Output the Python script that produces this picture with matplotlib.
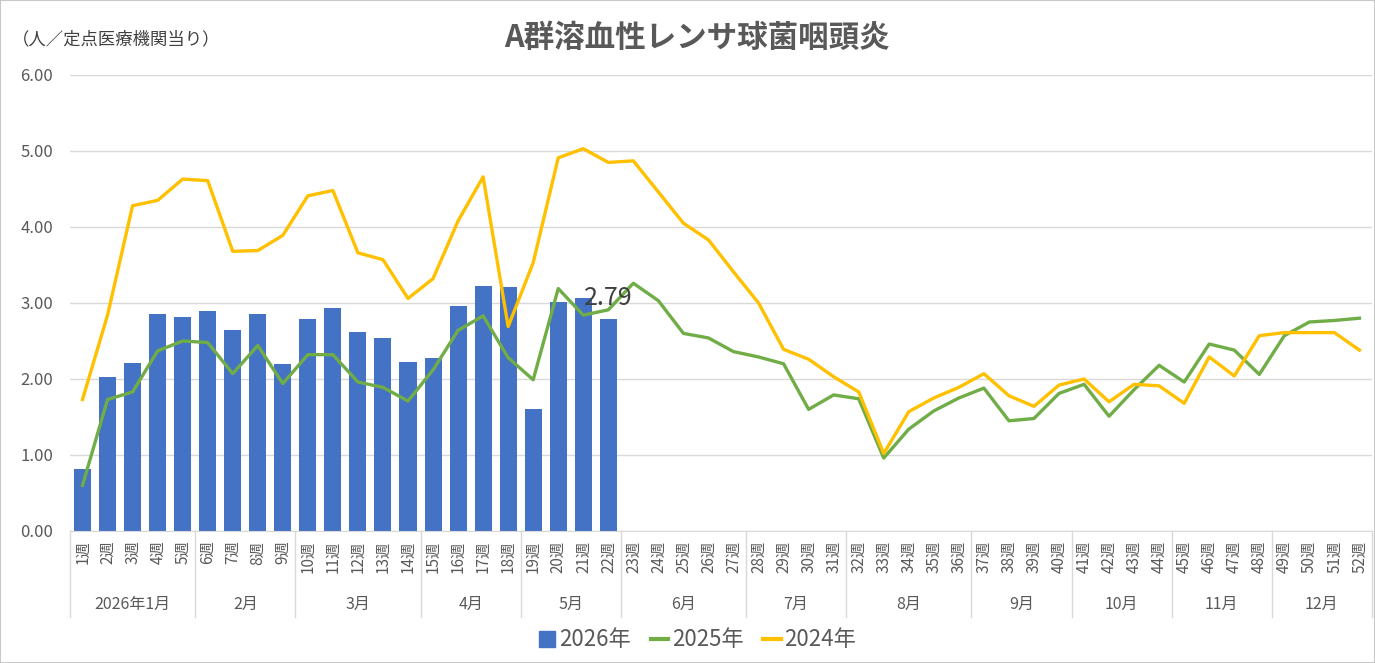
import matplotlib
matplotlib.use("Agg")
import matplotlib.pyplot as plt
import matplotlib.transforms as mtransforms
from matplotlib.lines import Line2D
from matplotlib.patches import Rectangle
import numpy as np

plt.rcParams['font.family'] = ['Noto Sans CJK JP', 'DejaVu Sans']

## data (per sentinel site)
weeks = [f"{i}週" for i in range(1, 53)]
months = ["2026年1月", "2月", "3月", "4月", "5月", "6月",
          "7月", "8月", "9月", "10月", "11月", "12月"]
month_weeks = [5, 4, 5, 4, 4, 5, 4, 5, 4, 4, 4, 4]   ## weeks per month group

v2026 = [0.82, 2.03, 2.21, 2.86, 2.82, 2.90, 2.65, 2.86, 2.20, 2.79,
         2.94, 2.62, 2.54, 2.22, 2.28, 2.96, 3.23, 3.21, 1.60, 3.01,
         3.07, 2.79]
v2025 = [0.60, 1.73, 1.83, 2.37, 2.50, 2.48, 2.07, 2.44, 1.94, 2.32,
         2.32, 1.96, 1.89, 1.71, 2.12, 2.64, 2.83, 2.28, 1.99, 3.19,
         2.84, 2.91, 3.26, 3.03, 2.60, 2.54, 2.36, 2.29, 2.20, 1.60,
         1.79, 1.74, 0.96, 1.34, 1.58, 1.75, 1.88, 1.45, 1.48, 1.81,
         1.93, 1.51, 1.86, 2.18, 1.96, 2.46, 2.38, 2.06, 2.57, 2.75,
         2.77, 2.80]
v2024 = [1.73, 2.84, 4.28, 4.35, 4.63, 4.61, 3.68, 3.69, 3.89, 4.41,
         4.48, 3.66, 3.57, 3.06, 3.32, 4.08, 4.66, 2.69, 3.53, 4.91,
         5.03, 4.85, 4.87, 4.46, 4.05, 3.83, 3.41, 3.00, 2.39, 2.26,
         2.03, 1.83, 1.02, 1.57, 1.75, 1.89, 2.07, 1.78, 1.64, 1.92,
         2.00, 1.70, 1.93, 1.91, 1.68, 2.29, 2.04, 2.57, 2.61, 2.61,
         2.61, 2.38]

c_bar = '#4472C4'
c_2025 = '#70AD47'
c_2024 = '#FFC000'
grey = '#595959'

fig = plt.figure(figsize=(13.75, 6.63), dpi=100)
ax = fig.add_axes([0.0509, 0.1991, 0.9469, 0.6878])

x = np.arange(len(weeks))
ax.bar(x[:len(v2026)], v2026, width=0.68, color=c_bar, zorder=2)
ax.plot(x, v2025, color=c_2025, lw=2.4, zorder=3)
ax.plot(x, v2024, color=c_2024, lw=2.4, zorder=3)

## label on last bar
ax.annotate(f"{v2026[-1]:.2f}", (x[len(v2026) - 1], v2026[-1]),
            xytext=(0, 6), textcoords='offset points',
            ha='center', va='bottom', fontsize=18, color='#404040', zorder=4)

ax.set_xlim(-0.5, len(weeks) - 0.5)
ax.set_ylim(0, 6)
ax.set_yticks(np.arange(0, 7, 1))
ax.set_yticklabels([f"{v:.2f}" for v in np.arange(0, 7, 1)])
ax.tick_params(axis='y', length=0, pad=12, labelsize=12, labelcolor=grey)
ax.grid(axis='y', color='#d9d9d9', lw=1, zorder=0)
ax.set_axisbelow(True)

ax.set_xticks(x)
ax.set_xticklabels(weeks, rotation=90, fontsize=11, color=grey)
ax.tick_params(axis='x', length=0, pad=7)

for s in ['top', 'right', 'left']:
    ax.spines[s].set_visible(False)
ax.spines['bottom'].set_color('#d9d9d9')

## month groups under the week labels
trans = mtransforms.blended_transform_factory(ax.transData, ax.transAxes)
edges = np.concatenate([[0], np.cumsum(month_weeks)]) - 0.5
for e in edges:
    ax.plot([e, e], [0, -0.189], transform=trans, color='#d9d9d9',
            lw=1, clip_on=False)
for i, m in enumerate(months):
    ax.text((edges[i] + edges[i + 1]) / 2, -0.162, m, transform=trans,
            ha='center', va='center', fontsize=11.5, color=grey)

fig.text(0.507, 0.943, "A群溶血性レンサ球菌咽頭炎", ha='center', va='center',
         fontsize=22, fontweight='bold', color=grey)
fig.text(0.009, 0.940, "（人／定点医療機関当り）", ha='left', va='center',
         fontsize=12.5, color='#404040')

handles = [Line2D([], [], marker='s', color=c_bar, ls='none', markersize=11),
           Line2D([], [], color=c_2025, lw=3),
           Line2D([], [], color=c_2024, lw=3)]
fig.legend(handles, ["2026年", "2025年", "2024年"], loc='center',
           bbox_to_anchor=(0.507, 0.035), ncol=3, frameon=False,
           fontsize=16, labelcolor=grey, handlelength=0.8,
           handletextpad=0.15, columnspacing=0.9)

fig.patches.append(Rectangle((0, 0), 1, 1, transform=fig.transFigure,
                             fill=False, edgecolor='#c8c8c8', lw=1.5))

fig.savefig("out.png", dpi=100)
